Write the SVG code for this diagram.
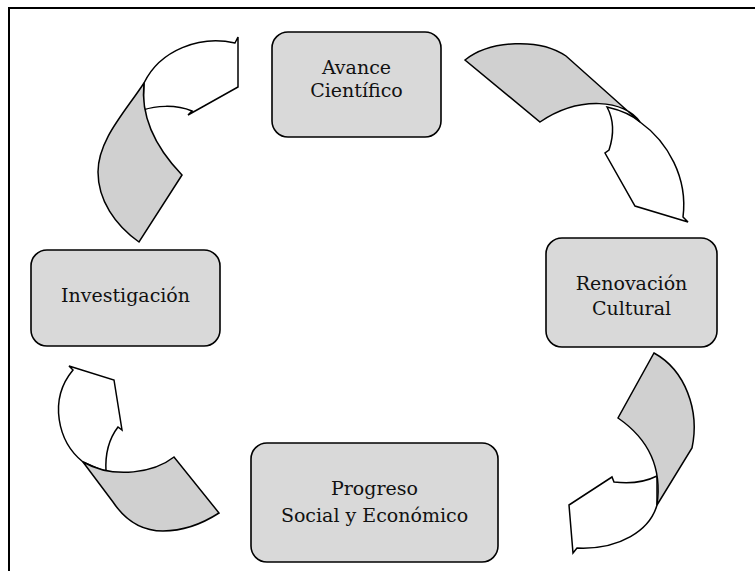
<svg xmlns="http://www.w3.org/2000/svg" width="755" height="571" viewBox="0 0 755 571">
<style>
.box{fill:#d9d9d9;stroke:#000;stroke-width:1.6}
.lbl{font-family:"DejaVu Serif","Liberation Serif",serif;font-size:19px;fill:#111;text-anchor:middle}
.aw{fill:#fff;stroke:#000;stroke-width:1.5;stroke-linejoin:miter}
.ag{fill:#d0d0d0;stroke:#000;stroke-width:1.5;stroke-linejoin:miter}
</style>
<rect x="0" y="0" width="755" height="571" fill="#fff"/>
<rect x="9" y="8" width="760" height="580" fill="none" stroke="#000" stroke-width="2"/>
<g id="connectors">
<g id="arrow1">
<path class="aw" d="M144,83 C160,50 200,35 235,43 L238,37 L238,87 L188,115 L192,111 C175,104 155,106 143,110 Z"/>
<path class="ag" d="M144,83 C125,112 98,140 98,172 C98,200 115,225 139,242 L182,175 C158,150 140,120 144,83 Z"/>
</g>
<g id="arrow2">
<path class="aw" d="M607,107 C620,110 632,115 640,122 C668,142 688,178 683,217 L688,222 L635,206 L605,153 L609,150 C614,135 614,120 607,107 Z"/>
<path class="ag" d="M465,60 C490,40 540,38 566,56 L640,122 C625,100 580,95 540,122 Z"/>
</g>
<g id="arrow3">
<path class="aw" d="M657,476 L657,505 C650,530 620,550 577,548 L573,553 L569,505 L612,477 L614,482 C630,484 645,482 657,476 Z"/>
<path class="ag" d="M654,353 C685,370 700,410 692,448 L657,505 C662,470 650,440 618,418 Z"/>
</g>
<g id="arrow4">
<path class="aw" d="M83,462 C58,442 48,400 73,370 L69,366 L114,380 L122,430 L118,427 C108,440 105,455 106,472 Z"/>
<path class="ag" d="M83,462 L113,502 C125,520 140,531 163,531 C185,531 205,522 219,513 L174,457 C155,472 115,480 83,462 Z"/>
</g>
</g>
<g id="avance">
<rect class="box" x="272" y="32" width="169" height="105" rx="16"/>
<text class="lbl" x="356.5" y="74">Avance</text>
<text class="lbl" x="356.5" y="97">Científico</text>
</g>
<g id="renovacion">
<rect class="box" x="546" y="238" width="171" height="109" rx="16"/>
<text class="lbl" x="631.5" y="290">Renovación</text>
<text class="lbl" x="631.5" y="315">Cultural</text>
</g>
<g id="investigacion">
<rect class="box" x="31" y="250" width="189" height="96" rx="16"/>
<text class="lbl" x="125.5" y="302">Investigación</text>
</g>
<g id="progreso">
<rect class="box" x="251" y="443" width="247" height="119" rx="16"/>
<text class="lbl" x="374.5" y="495">Progreso</text>
<text class="lbl" x="374.5" y="522">Social y Económico</text>
</g>
</svg>
